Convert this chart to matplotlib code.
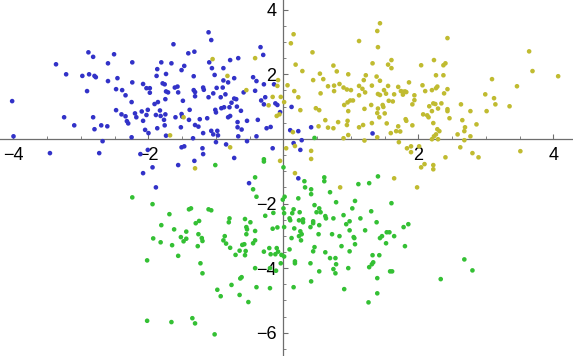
import matplotlib
matplotlib.use('Agg')
import matplotlib.pyplot as plt
from matplotlib.ticker import MultipleLocator

# ---- data ----
blue_pts = [
    (-2.89,2.68),(-2.82,2.54),(-2.51,2.62),(-3.37,2.31),(-2.60,2.34),(-2.24,2.37),(-3.22,2.00),(-2.98,1.95),
    (-2.88,2.00),(-2.80,1.95),(-2.78,1.91),(-2.60,1.79),(-2.46,1.88),(-2.24,1.75),(-2.91,1.48),(-2.48,1.54),
    (-2.39,1.51),(-2.34,1.35),(-4.02,1.17),(-2.25,1.14),(-2.48,0.89),(-2.40,0.76),(-2.34,0.70),(-2.20,0.79),
    (-2.18,0.67),(-3.25,0.67),(-2.82,0.67),(-3.10,0.42),(-2.70,0.42),(-2.61,0.39),(-2.80,0.30),(-2.32,0.55),
    (-2.30,0.48),(-4.00,0.08),(-2.25,0.05),(-2.68,-0.07),(-3.46,-0.44),(-2.73,-0.44),(-2.12,-0.47),(-2.01,-0.34),
    (-1.11,3.30),(-1.07,3.06),(-1.63,2.93),(-0.34,2.84),(-1.41,2.65),(-1.32,2.70),(-0.30,2.60),(-1.81,2.37),
    (-1.66,2.34),(-1.10,2.37),(-0.79,2.44),(-0.67,2.50),(-1.47,2.26),(-1.51,2.13),(-1.06,2.19),(-0.89,2.19),
    (-1.87,2.16),(-1.74,2.01),(-1.33,1.94),(-1.02,1.98),(-1.88,1.95),(-0.73,1.88),(-0.45,1.91),(-0.40,1.79),
    (-0.89,1.81),(-0.82,1.75),(-2.08,1.70),(-1.79,1.72),(-1.76,1.69),(-1.57,1.62),(-1.61,1.59),(-1.19,1.59),
    (-0.99,1.58),(-0.90,1.59),(-2.03,1.57),(-1.98,1.57),(-0.29,1.69),(-0.42,1.49),(-1.33,1.51),(-1.31,1.45),
    (-1.74,1.47),(-1.71,1.44),(-1.56,1.44),(-1.18,1.52),(-1.98,1.43),(-1.04,1.41),(-0.86,1.38),(-0.59,1.44),
    (-1.11,1.29),(-1.31,1.32),(-0.93,1.29),(-0.27,1.29),(-0.73,1.25),(-0.70,1.23),(-1.75,1.23),(-1.49,1.18),
    (-1.86,1.14),(-1.91,1.08),(-0.77,1.12),(-0.33,1.19),(-0.29,1.07),(-0.88,0.98),(-0.92,0.95),(-0.80,0.98),
    (-0.69,1.00),(-1.01,0.90),(-1.00,0.82),(-0.63,0.87),(-1.39,0.90),(-2.01,0.90),(-2.10,0.85),(-1.83,0.88),
    (-1.75,0.76),(-1.82,0.71),(-1.89,0.74),(-2.03,0.74),(-1.51,0.77),(-1.50,0.69),(-1.24,0.61),(-1.40,0.59),
    (-1.60,0.67),(-1.13,0.64),(-0.82,0.67),(-0.79,0.71),(-1.77,0.59),(-2.08,0.56),(-0.68,0.52),(-0.54,0.56),
    (-0.38,0.59),(-1.76,0.42),(-1.31,0.43),(-1.26,0.38),(-1.52,0.36),(-1.87,0.33),(-0.68,0.36),(-0.62,0.29),
    (-0.25,0.33),(-2.05,0.28),(-2.00,0.18),(-1.07,0.25),(-1.04,0.14),(-0.98,0.25),(-0.97,0.11),(-1.19,0.18),
    (-0.67,0.08),(-0.40,0.08),(-1.74,0.10),(-1.34,0.02),(-0.54,-0.07),(-1.00,-0.10),(-0.85,-0.17),(-1.51,-0.26),
    (-1.47,-0.23),(-1.20,-0.29),(-1.19,-0.47),(-0.73,-0.59),(-1.56,-0.81),(-1.32,-0.68),(-2.08,-1.06),(-1.89,-1.50),
    (-0.51,-1.37),(-1.94,-0.88),
    (-0.14,1.69),(-0.12,1.10),(-0.09,1.05),(0.12,0.99),(-0.05,0.83),(-0.19,0.37),(0.10,0.27),(0.22,0.24),
    (0.41,0.36),(1.32,0.17),(0.27,-0.04),(0.15,-0.13),(-0.16,-0.29),(0.25,-0.34),(0.22,-1.22),
]

yellow_pts = [
    (-1.05,2.47),(-0.42,2.50),(-0.83,1.95),(-0.55,1.51),(-1.48,0.67),(-1.68,0.11),(-0.79,-0.26),(-1.31,-0.91),
    (-0.22,1.04),
    (1.43,3.58),(1.39,3.34),(0.15,3.24),(0.11,2.96),(1.12,3.03),(1.40,2.84),(0.43,2.68),(1.60,2.44),
    (1.55,2.30),(1.60,2.19),(1.32,2.34),(0.18,2.30),(0.74,2.27),(0.28,2.10),(0.79,2.09),(0.54,2.02),
    (0.96,2.00),(1.22,1.97),(1.38,1.93),(-0.08,1.82),(0.44,1.82),(0.59,1.85),(1.19,1.82),(1.43,1.80),
    (-0.09,1.64),(0.06,1.66),(0.66,1.63),(0.75,1.65),(0.83,1.70),(0.89,1.59),(0.94,1.53),(1.00,1.51),
    (1.12,1.64),(1.17,1.55),(1.21,1.44),(1.31,1.65),(1.55,1.64),(1.70,1.61),(1.86,1.75),(0.16,1.48),
    (0.55,1.41),(0.75,1.48),(1.12,1.35),(1.40,1.39),(1.43,1.36),(1.49,1.51),(1.52,1.40),(1.64,1.38),
    (1.74,1.48),(1.77,1.46),(1.80,1.47),(1.82,1.45),(1.77,1.37),(-0.16,1.30),(-0.04,1.30),(0.22,1.29),
    (0.99,1.19),(1.03,1.19),(0.95,1.13),(0.90,1.05),(1.30,1.05),(1.47,1.05),(1.48,0.99),(1.56,1.18),
    (1.62,1.16),(0.01,1.14),(0.25,0.89),(0.48,0.95),(0.53,0.89),(0.96,0.86),(1.20,0.93),(1.40,0.94),
    (1.39,0.80),(1.50,0.79),(0.62,0.58),(0.81,0.52),(0.95,0.56),(0.94,0.43),(1.42,0.67),(1.53,0.48),
    (1.18,0.43),(1.31,0.49),(0.52,0.39),(0.66,0.35),(0.74,0.33),(1.12,0.36),(1.70,0.39),(1.81,0.61),
    (1.82,0.56),(1.67,0.24),(1.73,0.23),(1.59,0.18),(0.96,0.12),(0.89,0.02),(1.20,-0.05),(1.39,0.05),
    (1.71,-0.10),(0.14,0.21),(0.17,-0.22),(0.04,-0.29),(0.41,-0.37),(0.41,-0.62),(-0.05,-0.68),(-0.10,0.71),
    (-0.06,0.76),(1.83,-0.29),(1.64,-1.22),
    (2.43,3.12),(3.64,2.71),(3.69,2.10),(4.07,1.94),(2.04,2.28),(2.23,2.44),(2.37,2.28),(2.40,2.34),
    (2.26,1.97),(2.37,1.97),(2.06,1.66),(2.10,1.48),(2.20,1.51),(2.26,1.57),(2.28,1.62),(2.43,1.54),
    (2.38,1.41),(1.94,1.35),(1.94,1.20),(1.91,1.07),(2.22,1.10),(2.25,1.08),(2.34,1.10),(2.16,1.01),
    (2.29,0.94),(2.20,0.86),(2.43,0.92),(2.43,0.86),(2.63,1.07),(2.99,1.38),(3.09,1.85),(3.46,1.63),
    (3.12,1.26),(3.14,1.07),(3.01,0.86),(3.35,1.01),(2.77,0.86),(2.07,0.76),(2.13,0.73),(2.15,0.67),
    (2.46,0.64),(2.65,0.58),(1.91,0.42),(2.22,0.49),(2.86,0.45),(2.69,0.36),(2.28,0.30),(2.31,0.24),
    (2.68,0.24),(2.58,0.14),(2.77,0.08),(2.26,0.14),(2.23,0.08),(2.20,-0.01),(2.29,-0.01),(2.68,-0.04),
    (1.89,-0.23),(2.01,-0.23),(2.62,-0.26),(1.89,-0.41),(2.80,-0.44),(2.89,-0.57),(3.51,-0.38),(2.40,-0.57),
    (2.09,-0.78),(2.04,-0.88),(2.22,-0.81),(2.22,-0.94),
    (0.17,-1.06),(0.84,-1.50),(1.98,-1.50),
]

green_pts = [
    (-0.29,-0.63),(-0.29,-0.70),(0.46,0.03),
    (-1.01,-0.81),(-0.42,-1.19),(-0.45,-1.56),(-2.24,-1.81),(-1.94,-2.02),(-0.40,-1.79),(-1.69,-2.33),(-1.40,-2.18),
    (-1.37,-2.15),(-1.11,-2.18),(-1.07,-2.21),(-0.27,-2.38),(-0.15,-2.29),(-0.80,-2.46),(-0.81,-2.58),(-0.57,-2.48),
    (-0.49,-2.58),(-1.81,-2.67),(-1.62,-2.80),(-1.30,-2.61),(-1.25,-2.54),(-0.55,-2.73),(-0.54,-2.80),(-1.44,-2.87),
    (-1.52,-3.04),(-1.44,-3.09),(-1.48,-3.17),(-1.26,-2.95),(-1.21,-3.07),(-1.20,-3.16),(-0.87,-3.01),(-0.89,-3.14),
    (-0.85,-3.24),(-0.79,-3.37),(-0.55,-2.95),(-0.42,-2.85),(-0.16,-2.78),(-0.09,-2.74),(-1.93,-3.08),(-1.82,-3.20),
    (-1.65,-3.29),(-1.27,-3.32),(-0.42,-3.14),(-0.45,-3.23),(-0.61,-3.28),(-0.58,-3.26),(-0.65,-3.46),(-0.56,-3.47),
    (-0.71,-3.59),(-0.57,-3.60),(-0.29,-3.49),(-0.21,-3.38),(-0.10,-3.38),(-0.08,-3.49),(-0.19,-3.57),(-0.12,-3.57),
    (-1.56,-3.62),(-2.02,-3.76),(-1.23,-3.85),(-1.20,-4.16),(-0.42,-4.00),(-0.20,-4.00),(-0.11,-4.08),(-0.62,-4.28),
    (-0.64,-4.32),(-0.77,-4.52),(-0.40,-4.59),(-0.20,-4.62),(-0.98,-4.67),(-0.93,-4.87),(-0.65,-4.83),(-0.52,-5.05),
    (-2.02,-5.63),(-1.66,-5.67),(-1.35,-5.55),(-1.31,-5.71),(-1.02,-6.05),
    (0.00,-0.88),(0.605,-1.19),(0.605,-1.31),(0.31,-1.31),(0.32,-1.50),(0.41,-1.56),(0.41,-1.71),(0.69,-1.65),
    (1.11,-1.40),(1.27,-1.37),(1.40,-1.16),(0.017,-1.79),(-0.01,-1.88),(0.22,-1.84),(0.46,-2.05),(0.53,-2.15),
    (1.06,-1.92),(0.78,-1.96),(1.60,-1.99),(1.02,-2.15),(1.30,-2.24),(0.00,-2.15),(0.15,-2.18),(0.01,-2.30),
    (0.13,-2.30),(0.24,-2.27),(0.49,-2.27),(0.55,-2.27),(0.62,-2.39),(0.63,-2.46),(0.74,-2.46),(0.89,-2.36),
    (1.14,-2.46),(0.09,-2.46),(0.10,-2.52),(0.23,-2.52),(0.29,-2.49),(0.29,-2.58),(0.44,-2.55),(0.44,-2.61),
    (0.98,-2.55),(1.38,-2.58),(0.53,-2.67),(0.40,-2.73),(0.16,-2.77),(0.01,-2.73),(0.93,-2.64),(0.98,-2.83),
    (1.21,-2.83),(1.85,-2.64),(1.78,-2.73),(1.53,-2.89),(1.57,-2.89),(1.64,-3.01),(0.25,-2.86),(0.27,-2.95),
    (0.23,-3.01),(0.52,-2.95),(0.72,-2.95),(0.83,-3.01),(1.04,-3.04),(1.05,-3.07),(1.43,-3.07),(1.46,-3.01),
    (0.12,-3.07),(0.26,-3.14),(1.52,-3.23),(1.06,-3.26),(0.86,-3.32),(0.46,-3.35),(1.80,-3.32),(0.09,-3.42),
    (0.44,-3.48),(0.62,-3.51),(0.98,-3.48),(-0.03,-3.59),(0.01,-3.64),(0.69,-3.69),(0.77,-3.69),(1.32,-3.60),
    (1.42,-3.60),(0.78,-3.88),(1.33,-3.82),(1.31,-3.88),(1.27,-3.97),(-0.04,-3.85),(0.17,-3.79),(0.17,-3.85),
    (0.40,-3.85),(0.74,-4.03),(0.77,-4.16),(0.96,-4.00),(0.53,-4.10),(1.58,-4.10),(1.61,-4.10),(1.39,-4.31),
    (0.41,-4.41),(0.15,-4.59),(0.90,-4.65),(1.39,-4.78),(1.26,-5.06),(2.33,-4.34),(2.68,-3.73),(2.80,-4.07),
]

x_tick_labels = [-4, -2, 2, 4]
y_tick_labels = [-6, -4, -2, 2, 4]

colors = {'blue': '#3232c8', 'yellow': '#c0bb30', 'green': '#34c034'}
axis_gray = '#6e6e6e'

plt.rcParams['font.family'] = ['Liberation Sans', 'DejaVu Sans']

fig = plt.figure(figsize=(5.73, 3.56), dpi=100)
ax = fig.add_axes([0, 0, 1, 1])
ax.set_xlim(-4.2, 4.29)
ax.set_ylim(-6.72, 4.30)
ax.patch.set_visible(False)

for name, pts in (('blue', blue_pts), ('yellow', yellow_pts), ('green', green_pts)):
    xs = [p[0] for p in pts]
    ys = [p[1] for p in pts]
    ax.scatter(xs, ys, s=11, color=colors[name], edgecolors='none', zorder=3)

for s in ('top', 'right'):
    ax.spines[s].set_visible(False)
for s in ('left', 'bottom'):
    ax.spines[s].set_position(('data', 0))
    ax.spines[s].set_color(axis_gray)
    ax.spines[s].set_linewidth(0.9)

ax.set_xticks(x_tick_labels)
ax.set_yticks(y_tick_labels)
ax.xaxis.set_minor_locator(MultipleLocator(0.5))
ax.yaxis.set_minor_locator(MultipleLocator(0.5))
ax.tick_params(which='both', direction='in', color=axis_gray)
ax.tick_params(which='major', length=3.5, width=0.8, labelsize=13, labelcolor='black')
ax.tick_params(which='minor', length=2.0, width=0.6)
ax.tick_params(axis='x', which='major', pad=6)
ax.tick_params(axis='y', which='major', pad=5)

fig.savefig('out.png', dpi=100)
